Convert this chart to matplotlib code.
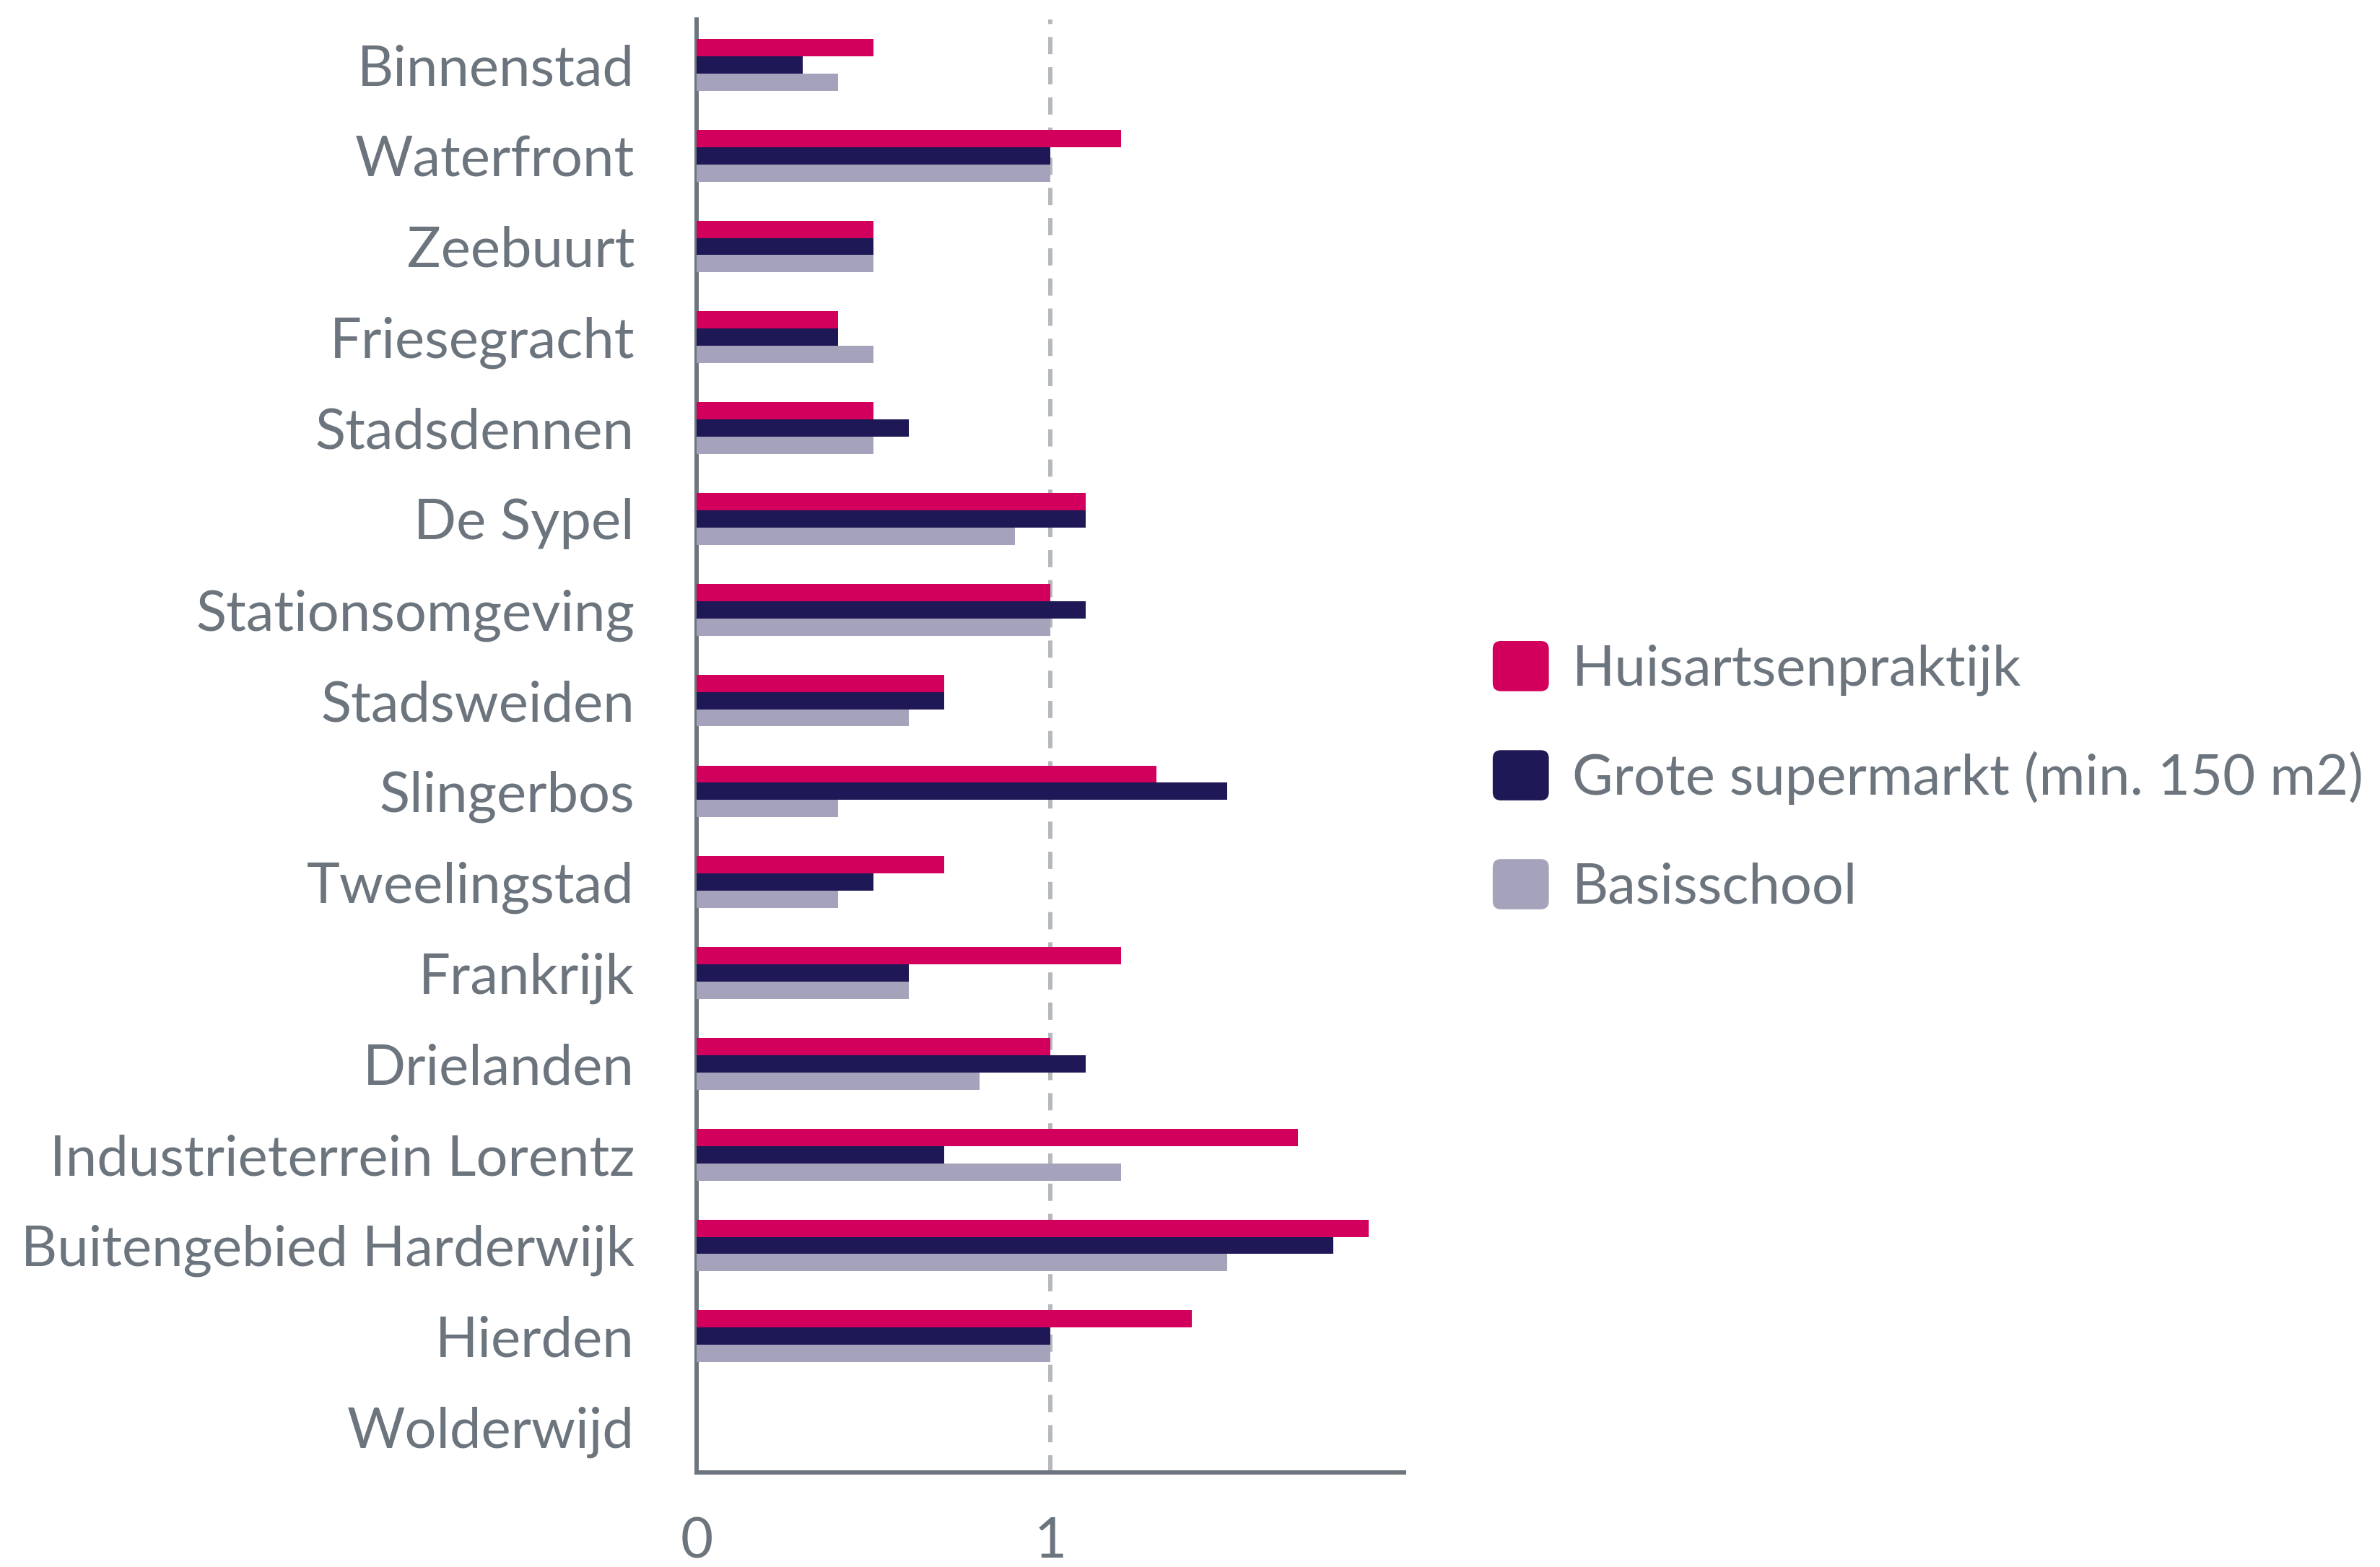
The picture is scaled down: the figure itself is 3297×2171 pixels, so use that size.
import numpy as np
import matplotlib.pyplot as plt
from matplotlib.patches import FancyBboxPatch
from matplotlib.legend_handler import HandlerBase
from matplotlib.container import BarContainer

plt.rcParams['font.family'] = ['Lato', 'DejaVu Sans']

wijken = ['Binnenstad', 'Waterfront', 'Zeebuurt', 'Friesegracht', 'Stadsdennen',
          'De Sypel', 'Stationsomgeving', 'Stadsweiden', 'Slingerbos', 'Tweelingstad',
          'Frankrijk', 'Drielanden', 'Industrieterrein Lorentz',
          'Buitengebied Harderwijk', 'Hierden', 'Wolderwijd']
huisarts = [0.5, 1.2, 0.5, 0.4, 0.5, 1.1, 1.0, 0.7, 1.3, 0.7, 1.2, 1.0, 1.7, 1.9, 1.4, 0]
supermarkt = [0.3, 1.0, 0.5, 0.4, 0.6, 1.1, 1.1, 0.7, 1.5, 0.5, 0.6, 1.1, 0.7, 1.8, 1.0, 0]
basisschool = [0.4, 1.0, 0.5, 0.5, 0.5, 0.9, 1.0, 0.6, 0.4, 0.4, 0.6, 0.8, 1.2, 1.5, 1.0, 0]
series = ['Huisartsenpraktijk', 'Grote supermarkt (min. 150 m2)', 'Basisschool']
kleuren = ['#D2005C', '#1E1856', '#A5A3BC']

txt = '#6C757D'
fig = plt.figure(figsize=(32.98, 21.71), dpi=100)
ax = fig.add_axes([0.2926, 0.0603, 0.2972, 0.9273])

y = np.arange(len(wijken))
h = 0.19
for k, (vals, naam, kl) in enumerate(zip([huisarts, supermarkt, basisschool], series, kleuren)):
    ax.barh(y + (k - 1) * h, vals, height=h, color=kl, label=naam, zorder=3)

ax.axvline(1, color='#B5B9BD', lw=4.3, dashes=(4.0, 3.0), zorder=1)

ax.set_xlim(0, 2)
ax.set_ylim(len(wijken) - 0.5, -0.5)
ax.set_xticks([0, 1])
ax.set_yticks(y)
ax.set_yticklabels(wijken)
ax.tick_params(axis='both', length=0, labelsize=56, labelcolor=txt)
ax.tick_params(axis='y', pad=62)
ax.tick_params(axis='x', pad=44)
for s in ['top', 'right']:
    ax.spines[s].set_visible(False)
for s in ['left', 'bottom']:
    ax.spines[s].set_color(txt)
    ax.spines[s].set_linewidth(4.3)


# afgeronde vierkantjes in de legenda
class RoundSquare(HandlerBase):
    def create_artists(self, legend, orig, xd, yd, w, hh, fontsize, trans):
        p = FancyBboxPatch((-xd + 3, -yd + 3), w - 6, hh - 6,
                           boxstyle='round,pad=3,rounding_size=8',
                           facecolor=orig.patches[0].get_facecolor(),
                           edgecolor='none', transform=trans)
        return [p]


handles, labels = ax.get_legend_handles_labels()
fig.legend(handles, labels, loc='center left', bbox_to_anchor=(0.627, 0.504),
           frameon=False, fontsize=56, labelcolor=txt, handlelength=1.0,
           handleheight=1.0, handletextpad=0.42, labelspacing=0.97,
           borderaxespad=0, borderpad=0,
           handler_map={BarContainer: RoundSquare()})

fig.savefig('out.png', dpi=100)
